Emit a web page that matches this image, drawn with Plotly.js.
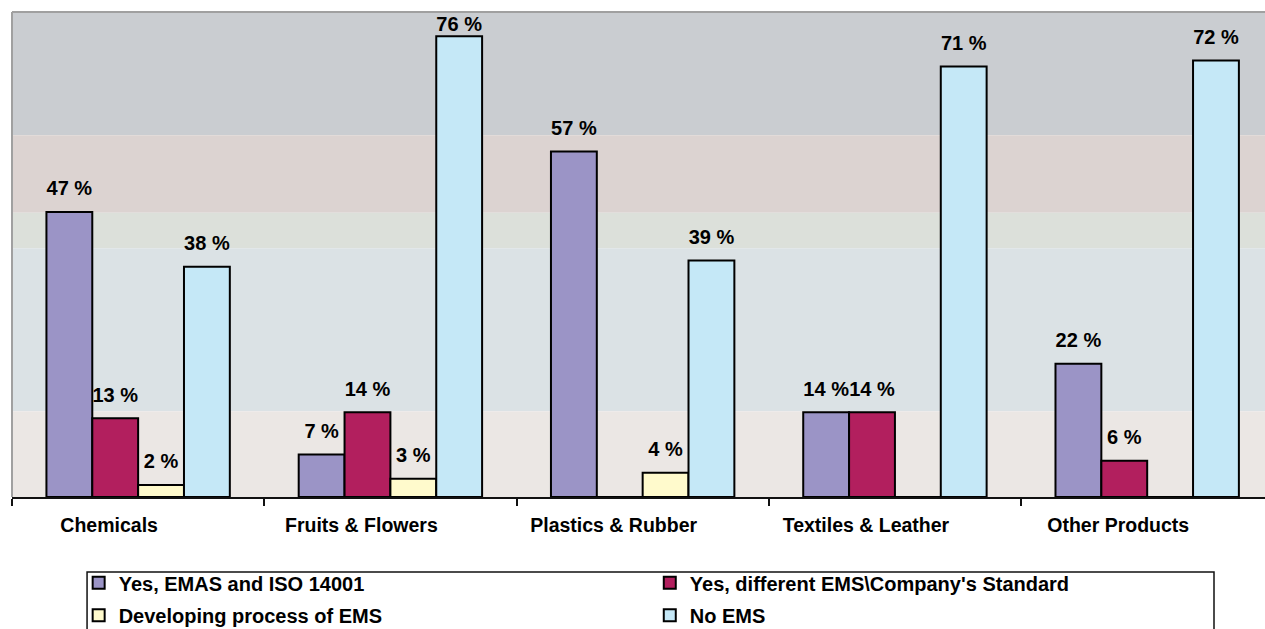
<!DOCTYPE html>
<html>
<head>
<meta charset="utf-8">
<script src="https://cdn.plot.ly/plotly-3.0.1.min.js"></script>
<style>html,body{margin:0;padding:0;background:#fff;}#chart{width:1265px;height:629px;}</style>
</head>
<body>
<div id="chart"></div>
<script>
const categories = ['Chemicals', 'Fruits & Flowers', 'Plastics & Rubber', 'Textiles & Leather', 'Other Products'];
const seriesNames = ['Yes, EMAS and ISO 14001', "Yes, different EMS\\Company's Standard", 'Developing process of EMS', 'No EMS'];
const emasIso = [47, 7, 57, 14, 22];
const differentEms = [13, 14, 0, 14, 6];
const developing = [2, 3, 4, 0, 0];
const noEms = [38, 76, 39, 71, 72];

const seriesValues = [emasIso, differentEms, developing, noEms];
const colors = ['#9b94c6', '#b21f5e', '#fffacc', '#c5e8f7'];
const legendFor = ['legend', 'legend2', 'legend', 'legend2'];
const FONT = 'Liberation Sans, Arial, Helvetica, sans-serif';
const Y_MAX = 80;

const traces = [];
seriesValues.forEach((vals, i) => {
  traces.push({
    type: 'bar', name: seriesNames[i], x: categories, y: vals,
    marker: {color: colors[i], line: {color: '#000', width: 2}},
    legend: legendFor[i], legendgroup: 'g' + i,
    hoverinfo: 'skip'
  });
});
// value labels (kept inside the plot area when a bar nearly reaches the top)
seriesValues.forEach((vals, i) => {
  traces.push({
    type: 'scatter', mode: 'markers+text', x: categories, y: vals,
    text: vals.map(v => v ? v + ' %' : ''),
    textposition: 'top center',
    textfont: {family: FONT, size: 20, color: '#000', weight: 'bold'},
    marker: {size: vals.map(v => v > Y_MAX - 6 ? 0 : 17), opacity: 0, color: 'rgba(0,0,0,0)'},
    showlegend: false, cliponaxis: false, hoverinfo: 'skip'
  });
});

// plot area: x 12..1265, y 12..497
const bands = [
  {y0: 0.746, y1: 1.0, c: '#cacdd1'},
  {y0: 0.586, y1: 0.746, c: '#dcd3d1'},
  {y0: 0.513, y1: 0.586, c: '#dce0da'},
  {y0: 0.177, y1: 0.513, c: '#dbe2e5'},
  {y0: 0.0, y1: 0.177, c: '#ebe7e4'}
];
const shapes = bands.map(b => ({type: 'rect', xref: 'paper', yref: 'paper', x0: 0, x1: 1, y0: b.y0, y1: b.y1,
  fillcolor: b.c, line: {width: 0}, layer: 'below'}));
shapes.push({type: 'line', xref: 'paper', yref: 'paper', x0: 0, x1: 1.01, y0: 1, y1: 1, line: {color: '#a0a0a0', width: 2}, layer: 'below'});
shapes.push({type: 'line', xref: 'paper', yref: 'paper', x0: 0, x1: 0, y0: 0, y1: 1, line: {color: '#a0a0a0', width: 2}, layer: 'below'});
// legend box
shapes.push({type: 'rect', xref: 'paper', yref: 'paper', x0: 0.0599, x1: 0.9593, y0: -0.1546, y1: -0.40,
  line: {color: '#111', width: 1.5}, fillcolor: 'rgba(0,0,0,0)'});

const legendFont = {family: FONT, size: 20, color: '#000', weight: 'bold'};
const layout = {
  width: 1265, height: 629,
  margin: {l: 12, r: 0, t: 12, b: 132, autoexpand: false},
  paper_bgcolor: '#ffffff', plot_bgcolor: 'rgba(0,0,0,0)',
  barmode: 'group', bargap: 0.273, bargroupgap: 0,
  scattermode: 'group',
  font: {family: FONT, color: '#000'},
  xaxis: {
    type: 'category', range: [-0.5, 4.467], fixedrange: true,
    showline: true, linecolor: '#111', linewidth: 2,
    ticks: 'outside', tickson: 'boundaries', ticklen: 7, tickwidth: 2, tickcolor: '#111',
    tickfont: {family: FONT, size: 19.5, color: '#000', weight: 'bold'},
    ticklabelstandoff: 10, ticklabelshift: -29, showgrid: false, zeroline: false
  },
  yaxis: {range: [0, Y_MAX], visible: false, showgrid: false, zeroline: false, fixedrange: true},
  showlegend: true,
  legend: {x: 0.0532, xanchor: 'left', y: -0.1367, yanchor: 'top', orientation: 'v',
    font: legendFont, bgcolor: 'rgba(0,0,0,0)', borderwidth: 0, tracegroupgap: 3.5},
  legend2: {x: 0.509, xanchor: 'left', y: -0.1367, yanchor: 'top', orientation: 'v',
    font: legendFont, bgcolor: 'rgba(0,0,0,0)', borderwidth: 0, tracegroupgap: 3.5},
  shapes: shapes
};

Plotly.newPlot('chart', traces, layout, {displayModeBar: false, staticPlot: true});
</script>
</body>
</html>
